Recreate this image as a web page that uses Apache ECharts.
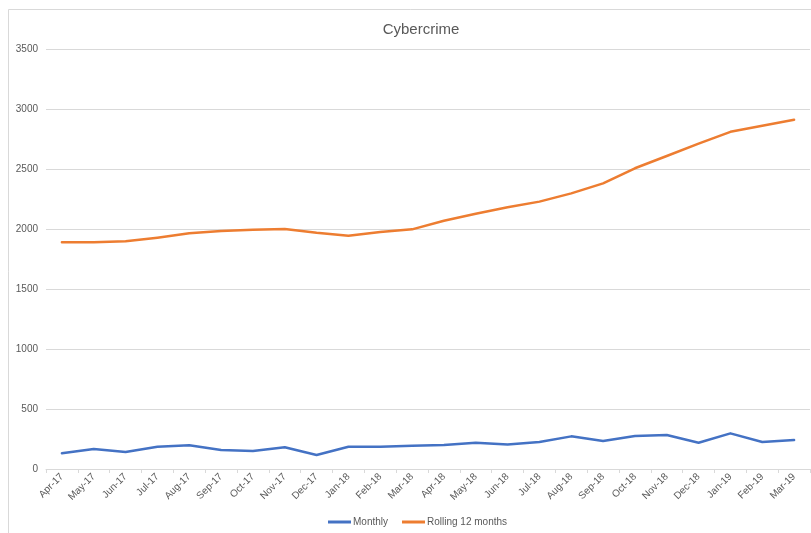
<!DOCTYPE html>
<html>
<head>
<meta charset="utf-8">
<script src="https://cdn.jsdelivr.net/npm/echarts@6/dist/echarts.min.js"></script>
<style>
  html, body { margin: 0; padding: 0; background: #fff; }
  #chart { width: 811px; height: 533px; }
</style>
</head>
<body>
<div id="chart"></div>
<script>
// Month labels along the category axis
const months = [
  'Apr-17', 'May-17', 'Jun-17', 'Jul-17', 'Aug-17', 'Sep-17', 'Oct-17', 'Nov-17',
  'Dec-17', 'Jan-18', 'Feb-18', 'Mar-18', 'Apr-18', 'May-18', 'Jun-18', 'Jul-18',
  'Aug-18', 'Sep-18', 'Oct-18', 'Nov-18', 'Dec-18', 'Jan-19', 'Feb-19', 'Mar-19'
];

// Offences recorded each month
const monthly = [
  131, 167, 142, 186, 197, 158, 150, 181, 117, 186, 186, 194,
  200, 219, 205, 225, 272, 233, 275, 283, 219, 297, 225, 242
];

// Rolling 12-month total
const rolling12 = [
  1889, 1889, 1897, 1928, 1964, 1983, 1994, 2000, 1969, 1944, 1975, 1997,
  2069, 2127, 2181, 2228, 2297, 2380, 2506, 2608, 2711, 2810, 2860, 2910
];

const seriesNames = ['Monthly', 'Rolling 12 months'];
const textColor = '#595959';
const gridColor = '#d9d9d9';
const font = '"Liberation Sans", Arial, sans-serif';

const chart = echarts.init(document.getElementById('chart'), null, { renderer: 'canvas' });

chart.setOption({
  animation: false,
  backgroundColor: '#ffffff',
  textStyle: { fontFamily: font },
  graphic: [{
    type: 'rect',
    shape: { x: 8.5, y: 9.5, width: 900, height: 600 },
    style: { fill: 'none', stroke: gridColor, lineWidth: 1 },
    silent: true,
    z: -1
  }],
  title: {
    text: 'Cybercrime',
    left: 416,
    textAlign: 'center',
    top: 17,
    textStyle: { color: textColor, fontSize: 15, fontWeight: 'normal', fontFamily: font }
  },
  legend: {
    data: seriesNames,
    left: 328,
    top: 517,
    padding: 0,
    icon: 'rect',
    itemWidth: 23,
    itemHeight: 3,
    itemGap: 14,
    textStyle: { color: textColor, fontSize: 10, fontFamily: font, padding: [0, 0, 0, -3] }
  },
  grid: { left: 46, right: 1, top: 49, bottom: 64, containLabel: false },
  xAxis: {
    type: 'category',
    data: months,
    boundaryGap: true,
    axisLine: { show: true, lineStyle: { color: gridColor, width: 1 } },
    axisTick: { show: true, length: 4, lineStyle: { color: gridColor } },
    axisLabel: { color: textColor, fontSize: 10, rotate: 45, margin: 6, interval: 0, fontFamily: font }
  },
  yAxis: {
    type: 'value',
    min: 0,
    max: 3500,
    interval: 500,
    axisLine: { show: false },
    axisTick: { show: false },
    axisLabel: {
      color: textColor, fontSize: 10, margin: 8, fontFamily: font,
      formatter: (v) => String(v)
    },
    splitLine: { lineStyle: { color: gridColor, width: 1 } }
  },
  series: [
    {
      name: seriesNames[0],
      type: 'line',
      data: monthly,
      symbol: 'none',
      lineStyle: { color: '#4472C4', width: 2.5, cap: 'round', join: 'round' },
      itemStyle: { color: '#4472C4' }
    },
    {
      name: seriesNames[1],
      type: 'line',
      data: rolling12,
      symbol: 'none',
      lineStyle: { color: '#ED7D31', width: 2.5, cap: 'round', join: 'round' },
      itemStyle: { color: '#ED7D31' }
    }
  ]
});
</script>
</body>
</html>
